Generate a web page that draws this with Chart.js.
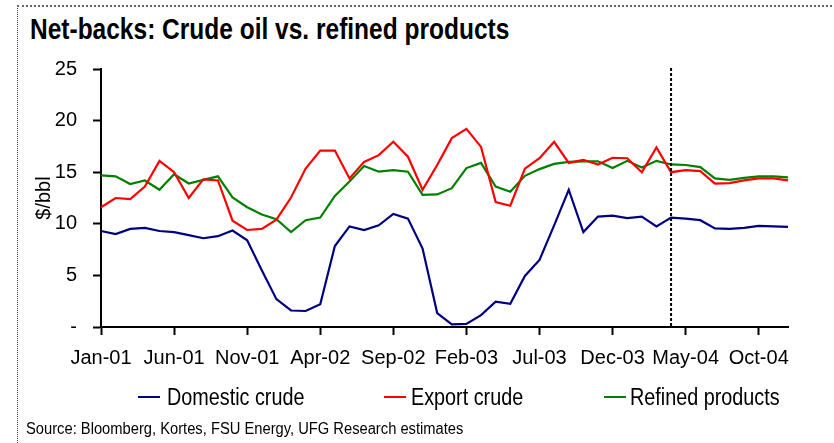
<!DOCTYPE html>
<html>
<head>
<meta charset="utf-8">
<script src="https://cdn.jsdelivr.net/npm/chart.js@4"></script>
<style>
  body { margin: 0; background: #fff; }
  #wrap { position: relative; width: 834px; height: 443px; overflow: hidden; font-family: "Liberation Sans", Arial, sans-serif; }
  #frame { position: absolute; left: 17px; top: 5px; width: 830px; height: 450px; border-top: 2px dotted #666; border-left: 1px dotted #444; }
  #title { position: absolute; left: 30px; top: 13px; font-size: 29px; font-weight: bold; color: #000; white-space: nowrap; transform: scaleX(0.845); transform-origin: left top; }
  #chart { position: absolute; left: 0; top: 0; }
  .sw { position: absolute; top: 396px; width: 22px; height: 2px; }
  .leg { position: absolute; top: 384px; font-size: 23px; color: #000; white-space: nowrap; transform: scaleX(0.86); transform-origin: left top; }
  #source { position: absolute; left: 26px; top: 420px; font-size: 16px; color: #000; white-space: nowrap; transform: scaleX(0.92); transform-origin: left top; }
</style>
</head>
<body>
<div id="wrap">
  <div id="frame"></div>
  <div id="title">Net-backs: Crude oil vs. refined products</div>
  <canvas id="chart" width="834" height="443"></canvas>
  <div id="legend"></div>
  <div id="source">Source: Bloomberg, Kortes, FSU Energy, UFG Research estimates</div>
</div>
<script>
const months = [
  "Jan-01", "Feb-01", "Mar-01", "Apr-01", "May-01", "Jun-01", "Jul-01", "Aug-01", "Sep-01", "Oct-01", "Nov-01", "Dec-01",
  "Jan-02", "Feb-02", "Mar-02", "Apr-02", "May-02", "Jun-02", "Jul-02", "Aug-02", "Sep-02", "Oct-02", "Nov-02", "Dec-02",
  "Jan-03", "Feb-03", "Mar-03", "Apr-03", "May-03", "Jun-03", "Jul-03", "Aug-03", "Sep-03", "Oct-03", "Nov-03", "Dec-03",
  "Jan-04", "Feb-04", "Mar-04", "Apr-04", "May-04", "Jun-04", "Jul-04", "Aug-04", "Sep-04", "Oct-04", "Nov-04", "Dec-04"
];

const domesticCrude = [
  9.3, 9.0, 9.5, 9.6, 9.3, 9.2, 8.9, 8.6, 8.8, 9.35,
  8.4, 5.5, 2.7, 1.6, 1.55, 2.2, 7.85, 9.75, 9.4, 9.85,
  10.95, 10.5, 7.6, 1.35, 0.25, 0.3, 1.15, 2.45, 2.25, 4.95,
  6.5, 9.85, 13.3, 9.2, 10.7, 10.8, 10.55, 10.7, 9.75, 10.6,
  10.5, 10.35, 9.55, 9.5, 9.6, 9.8, 9.75, 9.7
];
const exportCrude = [
  11.6, 12.5, 12.4, 13.6, 16.1, 15.0, 12.5, 14.3, 14.2, 10.3,
  9.4, 9.5, 10.4, 12.55, 15.35, 17.1, 17.1, 14.4, 16.0, 16.65,
  17.95, 16.5, 13.3, 15.7, 18.3, 19.2, 17.45, 12.1, 11.75, 15.35,
  16.35, 17.95, 15.9, 16.2, 15.75, 16.4, 16.35, 15.0, 17.4, 15.0,
  15.2, 15.1, 13.9, 13.95, 14.2, 14.4, 14.4, 14.2
];
const refinedProducts = [
  14.7, 14.6, 13.85, 14.2, 13.3, 14.8, 13.9, 14.25, 14.6, 12.55,
  11.6, 10.9, 10.45, 9.2, 10.35, 10.6, 12.7, 14.1, 15.6, 15.05,
  15.2, 15.05, 12.8, 12.85, 13.45, 15.4, 15.9, 13.6, 13.1, 14.65,
  15.3, 15.8, 16.0, 16.05, 16.05, 15.4, 16.1, 15.45, 16.1, 15.75,
  15.7, 15.5, 14.4, 14.25, 14.45, 14.6, 14.6, 14.5
];

const seriesNames = ["Domestic crude", "Export crude", "Refined products"];
const seriesColors = ["#000080", "#ff0000", "#008000"];
const yTicks = [0, 5, 10, 15, 20, 25];
const labelEvery = 5;
const forecastStart = "Apr-04";

const tickFont = { family: "'Liberation Sans', Arial, sans-serif", size: 20 };

// dotted divider where the estimates start
const dividerPlugin = {
  id: "divider",
  afterDatasetsDraw(chart) {
    const x = chart.scales.x.getPixelForValue(months.indexOf(forecastStart));
    const { top, bottom } = chart.chartArea;
    const ctx = chart.ctx;
    ctx.save();
    ctx.strokeStyle = "#000";
    ctx.lineWidth = 2;
    ctx.setLineDash([3, 2]);
    ctx.beginPath();
    ctx.moveTo(x, top - 1);
    ctx.lineTo(x, bottom);
    ctx.stroke();
    ctx.restore();
  }
};

const allSeries = [domesticCrude, exportCrude, refinedProducts];

new Chart(document.getElementById("chart"), {
  type: "line",
  data: {
    labels: months,
    datasets: allSeries.map((d, i) => ({
      label: seriesNames[i],
      data: d,
      borderColor: seriesColors[i],
      borderWidth: 2.2,
      pointRadius: 0,
      tension: 0,
      fill: false
    }))
  },
  options: {
    responsive: false,
    animation: false,
    devicePixelRatio: 1,
    layout: { padding: { left: 0, top: 69, right: 46, bottom: 0 } },
    plugins: { legend: { display: false }, tooltip: { enabled: false }, title: { display: false } },
    scales: {
      x: {
        offset: false,
        border: { color: "#000", width: 2 },
        grid: { drawOnChartArea: false, drawTicks: true, tickLength: 8, tickWidth: 2, tickColor: "#000" },
        ticks: {
          autoSkip: false,
          maxRotation: 0,
          color: "#000",
          font: tickFont,
          padding: 11,
          callback: (v, i) => (i % labelEvery === 0 ? months[i] : null)
        },
        afterFit: (s) => { s.height = 116; }
      },
      y: {
        min: 0,
        max: 25,
        border: { color: "#000", width: 2 },
        grid: { drawOnChartArea: false, drawTicks: true, tickLength: 8, tickWidth: 2, tickColor: "#000" },
        afterBuildTicks: (s) => { s.ticks = yTicks.map((v) => ({ value: v })); },
        ticks: {
          color: "#000",
          font: tickFont,
          padding: 16,
          callback: (v) => (v === 0 ? "-" : v)
        },
        title: {
          display: true,
          text: "$/bbl",
          color: "#000",
          font: tickFont,
          padding: { top: 32 }
        },
        afterFit: (s) => { s.width = 101; }
      }
    }
  },
  plugins: [dividerPlugin]
});

// legend laid out like the original, spread across the width
const swatchX = [138, 384, 604];
const legendTextX = [167, 411, 630];
const legendEl = document.getElementById("legend");
seriesNames.forEach((name, i) => {
  const sw = document.createElement("div");
  sw.className = "sw";
  sw.style.left = swatchX[i] + "px";
  sw.style.background = seriesColors[i];
  legendEl.appendChild(sw);
  const item = document.createElement("div");
  item.className = "leg";
  item.style.left = legendTextX[i] + "px";
  item.textContent = name;
  legendEl.appendChild(item);
});
</script>
</body>
</html>
